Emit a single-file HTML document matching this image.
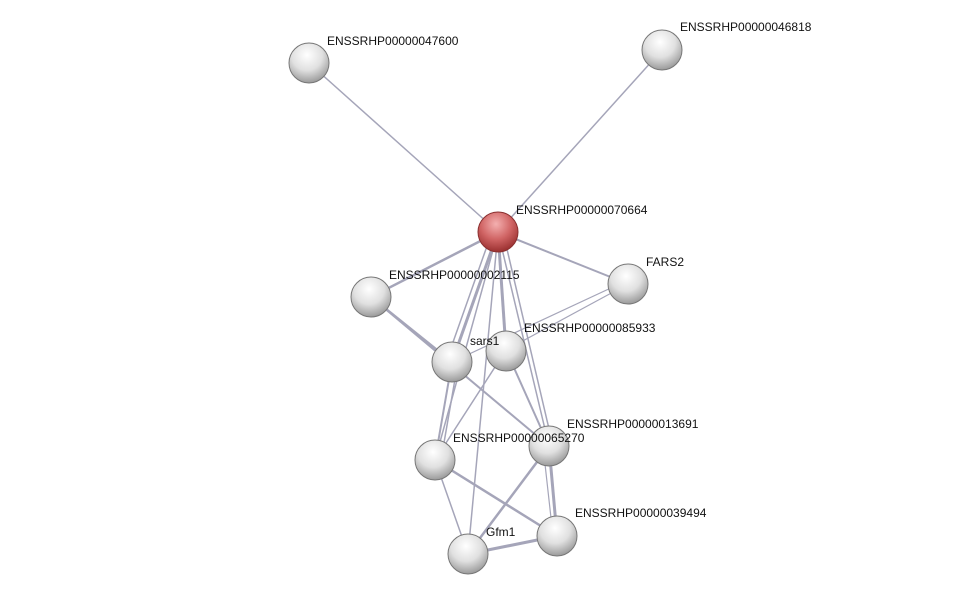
<!DOCTYPE html>
<html><head><style>body{margin:0;background:#fff}svg{display:block}text{font-family:"Liberation Sans",sans-serif;font-size:12px;fill:#111}</style></head>
<body>
<svg width="975" height="599" viewBox="0 0 975 599">
<defs>
<radialGradient id="g" cx="45%" cy="30%" r="70%"><stop offset="0" stop-color="#fff"/><stop offset="0.55" stop-color="#e0e0e0"/><stop offset="1" stop-color="#9a9a9a"/></radialGradient>
<radialGradient id="r" cx="45%" cy="30%" r="70%"><stop offset="0" stop-color="#f4b0b0"/><stop offset="0.55" stop-color="#d06464"/><stop offset="1" stop-color="#9a3030"/></radialGradient>
</defs>
<g stroke="#8f8fa8" stroke-width="2" fill="none" opacity="0.8">
<line x1="498" y1="232" x2="309" y2="63" stroke-width="1.5"/>
<line x1="498" y1="232" x2="662" y2="50" stroke-width="1.5"/>
<line x1="498" y1="232" x2="628" y2="284"/>
<line x1="498" y1="232" x2="371" y2="297" stroke-width="2.5"/>
<line x1="498" y1="232" x2="452" y2="362" stroke-width="3"/>
<line x1="492" y1="232" x2="446" y2="362" stroke-width="1.5"/>
<line x1="498" y1="232" x2="506" y2="350" stroke-width="3"/>
<line x1="498" y1="232" x2="468" y2="554" stroke-width="1.5"/>
<line x1="498" y1="232" x2="549" y2="446" stroke-width="1.5"/>
<line x1="503" y1="232" x2="553" y2="446" stroke-width="1.5"/>
<line x1="498" y1="232" x2="435" y2="460" stroke-width="1.5"/>
<line x1="371" y1="297" x2="452" y2="362" stroke-width="2.5"/>
<line x1="371" y1="297" x2="549" y2="446" stroke-width="2"/>
<line x1="628" y1="284" x2="506" y2="350" stroke-width="1.2"/>
<line x1="628" y1="280" x2="452" y2="362" stroke-width="1.2"/>
<line x1="452" y1="362" x2="435" y2="460" stroke-width="2"/>
<line x1="458" y1="362" x2="441" y2="460" stroke-width="1.5"/>
<line x1="506" y1="350" x2="435" y2="460" stroke-width="1.5"/>
<line x1="506" y1="350" x2="549" y2="446" stroke-width="2"/>
<line x1="435" y1="460" x2="557" y2="536" stroke-width="2.5"/>
<line x1="435" y1="460" x2="468" y2="554" stroke-width="1.5"/>
<line x1="549" y1="446" x2="468" y2="554" stroke-width="2.5"/>
<line x1="549" y1="446" x2="557" y2="536" stroke-width="3"/>
<line x1="543" y1="446" x2="553" y2="536" stroke-width="1.2"/>
<line x1="468" y1="554" x2="557" y2="536" stroke-width="3"/>
</g>
<g stroke="#777" stroke-width="1">
<circle cx="309" cy="63" r="20" fill="url(#g)"/>
<circle cx="662" cy="50" r="20" fill="url(#g)"/>
<circle cx="498" cy="232" r="20" fill="url(#r)" stroke="#8a3030"/>
<circle cx="628" cy="284" r="20" fill="url(#g)"/>
<circle cx="371" cy="297" r="20" fill="url(#g)"/>
<circle cx="452" cy="362" r="20" fill="url(#g)"/>
<circle cx="506" cy="351" r="20" fill="url(#g)"/>
<circle cx="435" cy="460" r="20" fill="url(#g)"/>
<circle cx="549" cy="446" r="20" fill="url(#g)"/>
<circle cx="557" cy="536" r="20" fill="url(#g)"/>
<circle cx="468" cy="554" r="20" fill="url(#g)"/>
</g>
<text x="327" y="45">ENSSRHP00000047600</text>
<text x="680" y="31">ENSSRHP00000046818</text>
<text x="516" y="214">ENSSRHP00000070664</text>
<text x="646" y="266">FARS2</text>
<text x="389" y="279">ENSSRHP00000002115</text>
<text x="470" y="345">sars1</text>
<text x="524" y="332">ENSSRHP00000085933</text>
<text x="453" y="442">ENSSRHP00000065270</text>
<text x="567" y="428">ENSSRHP00000013691</text>
<text x="575" y="517">ENSSRHP00000039494</text>
<text x="486" y="536">Gfm1</text>
</svg>
</body></html>
